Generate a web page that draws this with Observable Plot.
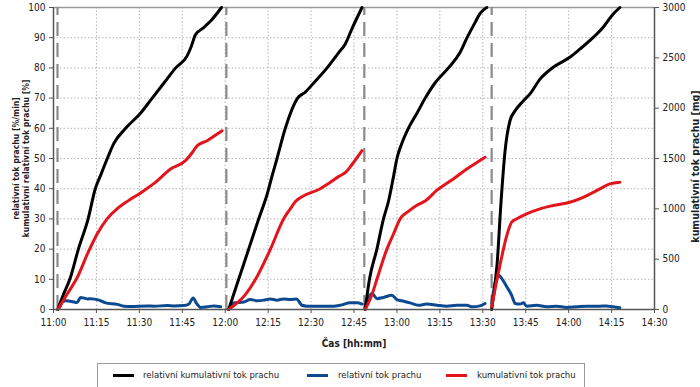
<!DOCTYPE html>
<html>
<head>
<meta charset="utf-8">
<script src="https://cdn.jsdelivr.net/npm/d3@7"></script>
<script src="https://cdn.jsdelivr.net/npm/@observablehq/plot@0.6"></script>
<style>
  html, body { margin: 0; padding: 0; background: #fff; }
  body { width: 700px; height: 387px; overflow: hidden; font-family: "Liberation Sans Narrow", "DejaVu Sans Condensed", "Liberation Sans", Arial, sans-serif; }
  #legend { position: relative; width: 700px; height: 27px; }
  #legend .box { position: absolute; left: 97px; top: 3px; width: 488px; height: 26px; border: 1px solid #9a9a9a; box-sizing: border-box; }
  #legend .sw { position: absolute; top: 14px; width: 21px; height: 3px; }
  #legend .tx { position: absolute; top: 8px; font-size: 9.5px; line-height: 14px; color: #222; white-space: nowrap; }
</style>
</head>
<body>
<div id="chart"></div>
<div id="legend"></div>
<script>
// ---- tick labels ----
const xTickLabels = ["11:00","11:15","11:30","11:45","12:00","12:15","12:30","12:45","13:00","13:15","13:30","13:45","14:00","14:15","14:30"];
const yTicksLeft = [0,10,20,30,40,50,60,70,80,90,100];
const yTicksRight = [0,500,1000,1500,2000,2500,3000];
const xLabel = "Čas [hh:mm]";
const yLabelLeft = "relativní tok prachu [%/min]\nkumulativní relativní tok prachu [%]";
const yLabelRight = "kumulativní tok prachu [mg]";
const seriesNames = ["relativní kumulativní tok prachu", "relativní tok prachu", "kumulativní tok prachu"];
const seriesColors = ["#000000", "#0b4a91", "#e3141b"];

// ---- measurement cycle boundaries (minutes after 11:00) ----
const cycleMarks = [1.4, 60.4, 108.6, 153.1];

// ---- relativní kumulativní tok prachu [%]  [minutes after 11:00, value] ----
const relCum1 = [[1.5,0],[3.5,5],[5.7,10],[8.7,20],[12.1,30],[14.6,40],[16.7,45],[18.8,50],[21.1,55],[25.2,60],[30.4,65],[34.5,70],[38.6,75],[42.7,80],[46.7,84],[48.1,87],[49.6,91],[52,93],[54.9,95.5],[58.7,100]];
const relCum2 = [[61.2,0],[64.7,10],[68.2,20],[71.7,30],[74.6,38],[76.6,45],[78.1,50],[81,60],[85.3,70],[88,72],[90.9,75],[95.6,80],[99.6,85],[102,88],[104.3,93],[107.8,100]];
const relCum3 = [[108.9,0],[110.4,10],[113,20],[115.3,30],[117.1,36],[118.8,44],[120,50],[121.7,55],[124,60],[127,65],[129.9,70],[133.3,75],[138,80],[142,85],[144.5,90],[147.3,95],[149,98],[151.4,100]];
const relCum4 = [[153.1,0],[155,15],[156.4,36],[157.8,52.6],[159.5,62.5],[161.3,65.8],[164.2,69.1],[166.5,71.4],[170,76.3],[174.6,80.2],[180.4,83.5],[183.9,86.2],[188.6,90.1],[192,93.4],[195.5,97.8],[197.9,100]];

// ---- relativní tok prachu [%/min] ----
const rel1 = [[1.5,0],[2.2,0.8],[3.3,2.7],[4.3,2.9],[7.2,2.5],[8.2,2.3],[9.5,4.0],[11.9,3.5],[13,3.6],[15.9,3.1],[18.2,2.2],[22.3,1.7],[24.6,1.1],[27,1.0],[32.8,1.2],[35.1,1.1],[39.8,1.3],[42.1,1.2],[45.6,1.3],[47.3,1.8],[48.8,3.8],[50,2.0],[51.4,0.7],[53.7,0.9],[56,1.2],[58.4,0.9]];
const rel2 = [[61.2,0],[63,2.2],[66.5,2.5],[68.8,3.3],[71.2,2.9],[73.5,3.1],[75.8,3.5],[78.1,3.1],[80.4,3.5],[82.8,3.3],[84.9,3.5],[86.8,1.4],[88.6,1.1],[93.2,1.1],[97.9,1.1],[100.2,1.4],[103.7,2.2],[106,2.2],[107.8,1.8]];
const rel3 = [[108.9,0.5],[111.3,5.3],[113,3.6],[115.3,4.0],[118.2,4.7],[120,3.3],[121.7,2.9],[124.6,2.2],[127.5,1.4],[130.4,1.8],[134,1.4],[137.4,1.1],[140.9,1.4],[144.4,1.4],[146.4,0.9],[149,1.2],[150.8,2.0]];
const rel4 = [[153.1,2.0],[154.5,9.7],[155.4,11.4],[156.6,10.3],[158.4,7.5],[160.1,4.7],[161.3,2.0],[163,1.8],[164.2,2.2],[165.3,1.1],[168.8,1.4],[172.3,0.9],[175.8,1.1],[179.3,0.7],[182.8,0.9],[186.3,1.1],[190.9,1.1],[193.2,1.2],[195.5,0.9],[197.9,0.6]];

// ---- kumulativní tok prachu [mg] ----
const cum1 = [[1.5,0],[4.9,159],[8.4,324],[11.9,555],[15.3,753],[18.8,903],[22.3,1002],[25.8,1074],[30.4,1158],[35.5,1260],[40.9,1395],[46.1,1479],[48.5,1560],[50.2,1626],[53.7,1677],[57.2,1743],[58.9,1776]];
const cum2 = [[61.2,0],[67.1,150],[70.6,300],[75.8,600],[80.4,900],[82.5,990],[84.8,1080],[86.5,1116],[93.2,1200],[96.5,1260],[99.6,1320],[102,1362],[104.3,1440],[107.8,1578]];
const cum3 = [[108.9,0],[111.3,150],[113,300],[116.5,600],[118.8,750],[121.1,900],[124,975],[127,1035],[130,1080],[134,1185],[139.7,1296],[144.4,1395],[149,1479],[150.8,1512]];
const cum4 = [[153.1,30],[154.9,290],[156.6,521],[158.4,736],[160.1,868],[161.9,901],[165.3,950],[170,1000],[174.6,1033],[180.4,1066],[185.1,1115],[190.9,1198],[194.4,1248],[197.9,1264]];

// ---- helpers ----
const toMin = s => { const [h, m] = s.split(":").map(Number); return (h - 11) * 60 + m; };
const xTicks = xTickLabels.map(toMin);
const mgMax = 3000, pctMax = 100;
const flat = cycles => cycles.flatMap((arr, i) => arr.map(([t, v]) => ({t, v, cycle: i})));
const relCumData = flat([relCum1, relCum2, relCum3, relCum4]);
const relData = flat([rel1, rel2, rel3, rel4]);
const cumData = flat([cum1, cum2, cum3, cum4]);

const font = '"Liberation Sans Narrow", "DejaVu Sans Condensed", "Liberation Sans", Arial, sans-serif';

const chart = Plot.plot({
  width: 700,
  height: 360,
  marginLeft: 53,
  marginRight: 46,
  marginTop: 7,
  marginBottom: 51,
  style: {fontFamily: font, fontSize: "10px", color: "#222", background: "#fff", overflow: "visible"},
  x: {domain: [toMin(xTickLabels[0]), toMin(xTickLabels[xTickLabels.length - 1])]},
  y: {domain: [0, pctMax]},
  marks: [
    Plot.gridX(xTicks, {stroke: "#b5b5b5", strokeOpacity: 1, strokeDasharray: "1.5,2"}),
    Plot.gridY(yTicksLeft, {stroke: "#b5b5b5", strokeOpacity: 1, strokeDasharray: "1.5,2"}),
    Plot.ruleY([pctMax], {stroke: "#9a9a9a", strokeWidth: 1.5}),
    Plot.ruleX(cycleMarks, {y1: 0, y2: pctMax, stroke: "#8a8a8a", strokeWidth: 2.2, strokeDasharray: "14,7"}),
    Plot.axisX(xTicks, {anchor: "bottom", tickFormat: (d) => xTickLabels[xTicks.indexOf(d)], tickSize: 4, tickPadding: 5, label: null, stroke: "#555"}),
    Plot.axisY(yTicksLeft, {anchor: "left", tickSize: 4, tickPadding: 4, label: null, stroke: "#555"}),
    Plot.axisY(yTicksRight.map(d => d / mgMax * pctMax), {anchor: "right", tickSize: 4, tickPadding: 4, label: null, stroke: "#555",
      tickFormat: d => String(Math.round(d / pctMax * mgMax))}),
    Plot.line(relData, {x: "t", y: "v", z: "cycle", stroke: seriesColors[1], strokeWidth: 3, curve: "monotone-x"}),
    Plot.line(relCumData, {x: "t", y: "v", z: "cycle", stroke: seriesColors[0], strokeWidth: 3, curve: "monotone-x"}),
    Plot.line(cumData, {x: "t", y: d => d.v / mgMax * pctMax, z: "cycle", stroke: seriesColors[2], strokeWidth: 3, curve: "monotone-x"}),
    Plot.ruleX([toMin(xTickLabels[0])], {stroke: "#555", strokeWidth: 1.5}),
    Plot.ruleX([toMin(xTickLabels[xTickLabels.length - 1])], {stroke: "#555", strokeWidth: 1.5}),
    Plot.ruleY([0], {stroke: "#555", strokeWidth: 1.5}),
    Plot.text([yLabelLeft], {frameAnchor: "left", rotate: -90, dx: -33, fontWeight: "bold", fontSize: 8.6, lineHeight: 1.18, textAnchor: "middle", fill: "#222"}),
    Plot.text([yLabelRight], {frameAnchor: "right", rotate: -90, dx: 41, dy: 8, fontWeight: "bold", fontSize: 10.5, textAnchor: "middle", fill: "#222"}),
    Plot.text([xLabel], {frameAnchor: "bottom", dy: 34, lineAnchor: "middle", fontWeight: "bold", fontSize: 10, fill: "#222"})
  ]
});
document.getElementById("chart").appendChild(chart);

// ---- legend ----
const legend = document.getElementById("legend");
const box = document.createElement("div");
box.className = "box";
legend.appendChild(box);
const swX = [113, 307, 446];
const txX = [143, 338, 477];
seriesNames.forEach((name, i) => {
  const sw = document.createElement("div");
  sw.className = "sw";
  sw.style.left = swX[i] + "px";
  sw.style.background = seriesColors[i];
  legend.appendChild(sw);
  const tx = document.createElement("div");
  tx.className = "tx";
  tx.style.left = txX[i] + "px";
  tx.textContent = name;
  legend.appendChild(tx);
});
</script>
</body>
</html>
